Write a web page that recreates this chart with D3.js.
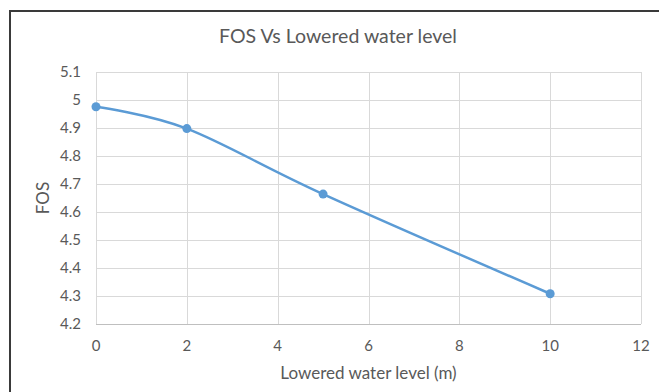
<!DOCTYPE html>
<html>
<head>
<meta charset="utf-8">
<script src="https://cdn.jsdelivr.net/npm/d3@7"></script>
<style>
  html, body { margin: 0; padding: 0; background: #fff; }
  svg { display: block; font-family: Lato, "Open Sans", sans-serif; }
</style>
</head>
<body>
<svg id="chart" width="659" height="392"></svg>
<script>
// Lowered water level (m) and resulting factor of safety
const levels = [0, 2, 5, 10];
const fosValues = [4.976, 4.898, 4.664, 4.308];
const xTicks = [0, 2, 4, 6, 8, 10, 12];
const yTicks = [4.2, 4.3, 4.4, 4.5, 4.6, 4.7, 4.8, 4.9, 5.0, 5.1];

const svg = d3.select("#chart");
const textColor = "#595959";
const gridColor = "#d9d9d9";
const seriesColor = "#5b9bd5";

const plot = { left: 96, right: 641, top: 72, bottom: 324 };

const x = d3.scaleLinear().domain([0, 12]).range([plot.left, plot.right]);
const y = d3.scaleLinear().domain([4.2, 5.1]).range([plot.bottom, plot.top]);

// Chart frame edges
svg.append("line").attr("x1", 10).attr("x2", 659).attr("y1", 11).attr("y2", 11)
  .attr("stroke", "#3a3a3a").attr("stroke-width", 2);
svg.append("line").attr("x1", 10).attr("x2", 10).attr("y1", 10).attr("y2", 392)
  .attr("stroke", "#3a3a3a").attr("stroke-width", 2);

// Horizontal gridlines
svg.append("g").selectAll("line").data(yTicks).join("line")
  .attr("x1", plot.left).attr("x2", plot.right)
  .attr("y1", d => Math.round(y(d)) + 0.5).attr("y2", d => Math.round(y(d)) + 0.5)
  .attr("stroke", gridColor).attr("stroke-width", 1);

// Vertical gridlines
svg.append("g").selectAll("line").data(xTicks).join("line")
  .attr("x1", d => Math.round(x(d)) + 0.5).attr("x2", d => Math.round(x(d)) + 0.5)
  .attr("y1", plot.top).attr("y2", plot.bottom)
  .attr("stroke", gridColor).attr("stroke-width", 1);

// Bottom axis line
svg.append("line").attr("x1", plot.left).attr("x2", plot.right)
  .attr("y1", plot.bottom + 0.5).attr("y2", plot.bottom + 0.5)
  .attr("stroke", "#bfbfbf").attr("stroke-width", 1);

// Y tick labels
svg.append("g").selectAll("text").data(yTicks).join("text")
  .attr("x", 81).attr("y", d => y(d))
  .attr("dy", "0.35em").attr("text-anchor", "end")
  .attr("font-size", 15).attr("fill", textColor)
  .text(d => d3.format("")(+d.toFixed(1)));

// X tick labels
svg.append("g").selectAll("text").data(xTicks).join("text")
  .attr("x", d => x(d)).attr("y", 346)
  .attr("dy", "0.35em").attr("text-anchor", "middle")
  .attr("font-size", 15).attr("fill", textColor)
  .text(d => d);

// Title and axis titles
svg.append("text").attr("x", 338).attr("y", 36).attr("dy", "0.35em")
  .attr("text-anchor", "middle").attr("font-size", 19.5).attr("fill", textColor)
  .text("FOS Vs Lowered water level");

svg.append("text").attr("x", (plot.left + plot.right) / 2).attr("y", 373).attr("dy", "0.35em")
  .attr("text-anchor", "middle").attr("font-size", 17).attr("fill", textColor)
  .text("Lowered water level (m)");

svg.append("text")
  .attr("transform", `translate(43, ${(plot.top + plot.bottom) / 2}) rotate(-90)`)
  .attr("dy", "0.35em").attr("text-anchor", "middle")
  .attr("font-size", 17).attr("fill", textColor)
  .text("FOS");

// Smoothed series line
const pts = levels.map((l, i) => [l, fosValues[i]]);
const line = d3.line()
  .x(d => x(d[0])).y(d => y(d[1]))
  .curve(d3.curveCardinal.tension(0));

svg.append("path").datum(pts)
  .attr("d", line).attr("fill", "none")
  .attr("stroke", seriesColor).attr("stroke-width", 2.5)
  .attr("stroke-linecap", "round");

// Markers
svg.append("g").selectAll("circle").data(pts).join("circle")
  .attr("cx", d => x(d[0])).attr("cy", d => y(d[1]))
  .attr("r", 4.5).attr("fill", seriesColor);
</script>
</body>
</html>
